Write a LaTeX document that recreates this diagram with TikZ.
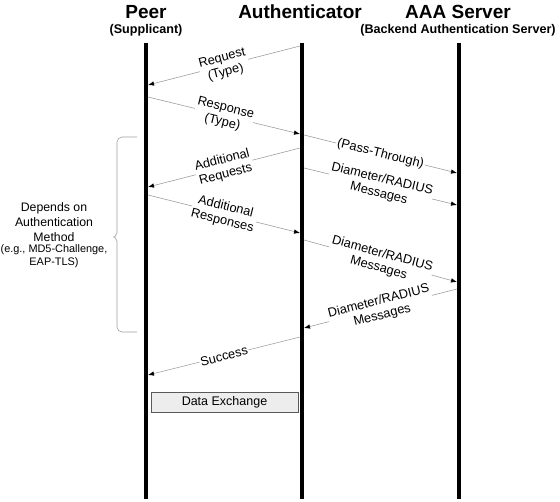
\documentclass[tikz,border=0pt]{standalone}
\usepackage{fontspec}
\setmainfont{Liberation Sans}
\usetikzlibrary{arrows.meta,positioning}

\tikzset{
  lifeline/.style={line width=4pt},
  msg/.style={draw=black!38, line width=0.6pt, -{Latex[black,length=6pt,width=4.5pt]}},
  msglabel/.style={midway, sloped, fill=white, inner sep=1pt, align=center, font=\fontsize{12.8}{14.6}\selectfont},
  title/.style={font=\bfseries\fontsize{19}{22}\selectfont},
  subtitle/.style={font=\bfseries\fontsize{12.6}{15}\selectfont},
}

\begin{document}
\begin{tikzpicture}[x=1pt,y=-1pt]
\useasboundingbox (0,0) rectangle (560,502);

\node (peer) [title] at (146,12) {Peer};
\node (supplicant) [subtitle] at (146,30) {(Supplicant)};
\node (auth) [title] at (300,12) {Authenticator};
\node (aaa) [title] at (458,12) {AAA Server};
\node (backend) [subtitle] at (458,30) {(Backend Authentication Server)};

\draw [lifeline] (146,43) -- (146,499);
\draw [lifeline] (302,43) -- (302,499);
\draw [lifeline] (459,43) -- (459,499);

\coordinate (req1) at (300,46);  \coordinate (req2) at (148,85);
\coordinate (resp1) at (148,97); \coordinate (resp2) at (300,134);
\coordinate (pass1) at (304,135); \coordinate (pass2) at (457,173);
\coordinate (areq1) at (300,148); \coordinate (areq2) at (148,187);
\coordinate (diam1) at (304,168); \coordinate (diam2) at (457,205);
\coordinate (aresp1) at (148,195); \coordinate (aresp2) at (300,233);
\coordinate (diam3) at (304,240); \coordinate (diam4) at (457,282);
\coordinate (diam5) at (457,289); \coordinate (diam6) at (304,328);
\coordinate (succ1) at (300,337); \coordinate (succ2) at (148,375);

\draw [msg] (req1) -- (req2) node [msglabel] {Request\\(Type)};
\draw [msg] (resp1) -- (resp2) node [msglabel] {Response\\(Type)};
\draw [msg] (pass1) -- (pass2) node [msglabel] {(Pass-Through)};
\draw [msg] (areq1) -- (areq2) node [msglabel] {Additional\\Requests};
\draw [msg] (diam1) -- (diam2) node [msglabel] {Diameter/RADIUS\\Messages};
\draw [msg] (aresp1) -- (aresp2) node [msglabel] {Additional\\Responses};
\draw [msg] (diam3) -- (diam4) node [msglabel] {Diameter/RADIUS\\Messages};
\draw [msg] (diam5) -- (diam6) node [msglabel] {Diameter/RADIUS\\Messages};
\draw [msg] (succ1) -- (succ2) node [msglabel] {Success};

\node (data) [draw=black!65, fill=black!7, minimum width=147pt, minimum height=20pt, inner sep=0pt, font=\fontsize{12.5}{15}\selectfont] at (224.5,402) {Data Exchange};

\draw [black!38, line width=0.6pt, rounded corners=5pt] (137,137) -- (117,137) -- (117,228)
  .. controls (117,234) and (114,237) .. (110,237)
  .. controls (114,237) and (117,240) .. (117,246) -- (117,332) -- (137,332);

\node (depends) [align=center, inner sep=0pt, font=\fontsize{12.3}{15}\selectfont] at (54,222) {Depends on\\Authentication\\Method};
\node (method) [align=center, inner sep=0pt, font=\fontsize{10.9}{13}\selectfont] at (54,256.5) {(e.g., MD5-Challenge,\\EAP-TLS)};
\end{tikzpicture}
\end{document}
